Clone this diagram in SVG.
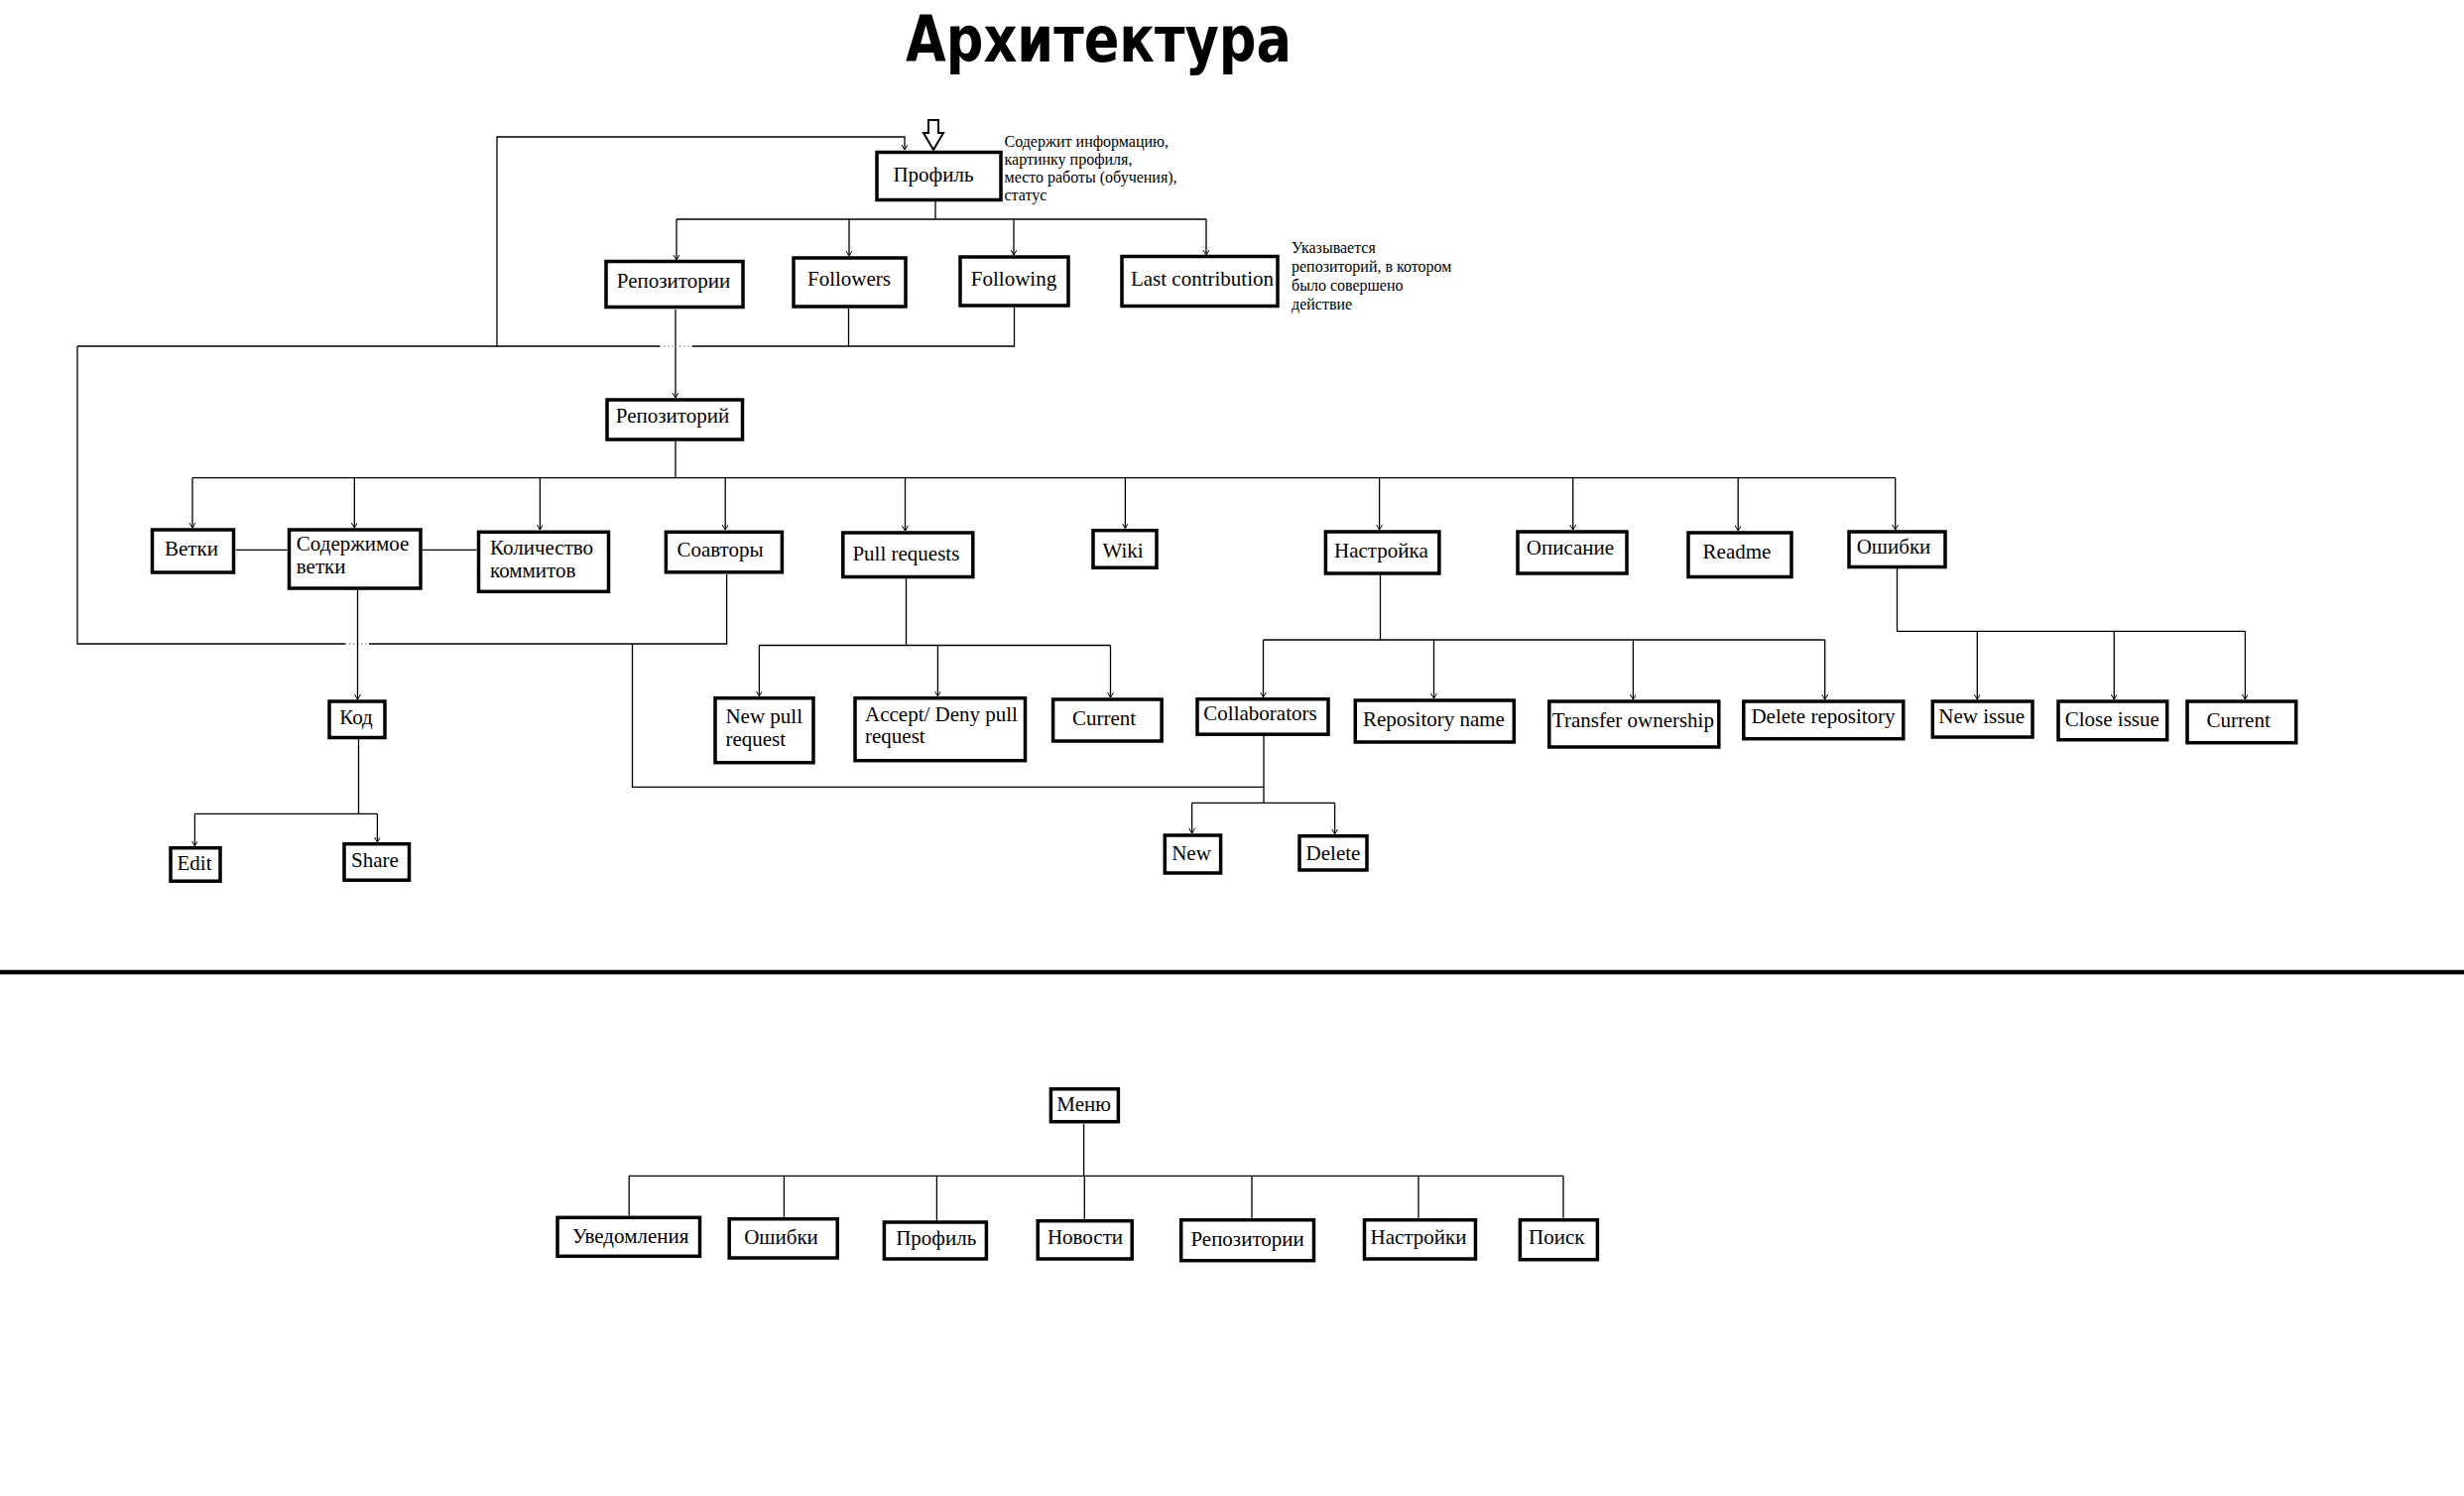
<svg xmlns="http://www.w3.org/2000/svg" width="2484" height="1508" viewBox="0 0 2484 1508">
<defs>
<style>
.box{fill:#fff;stroke:#000;stroke-width:3.5}
.t{font-family:"Liberation Serif","Times New Roman",serif;font-size:21px;fill:#000}
.m{text-anchor:middle}
.note{font-family:"Liberation Serif","Times New Roman",serif;font-size:16px;fill:#000}
.c{fill:none;stroke:#000;stroke-width:1.3}
.a{marker-end:url(#arr)}
.dot{fill:none;stroke:#999;stroke-width:1.3;stroke-dasharray:1.5 2.5}
</style>
<marker id="arr" markerWidth="8" markerHeight="8" refX="5" refY="3" orient="auto" markerUnits="userSpaceOnUse">
<path d="M0,0 L5,3 L0,6" fill="none" stroke="#000" stroke-width="1"/>
</marker>
</defs>
<rect width="2484" height="1508" fill="#fff"/>
<text x="1107.5" y="61.7" text-anchor="middle" font-family="'DejaVu Sans',Verdana,sans-serif" font-weight="bold" font-size="64" textLength="389" lengthAdjust="spacingAndGlyphs">Архитектура</text>

<g id="connectors">
<path class="c a" d="M501,349 V138 H912 V151"/>
<path class="c" d="M943,203 V221 M682,221 H1216"/>
<path class="c a" d="M682,221 V262"/>
<path class="c a" d="M856,221 V258"/>
<path class="c a" d="M1022,221 V257"/>
<path class="c a" d="M1216,221 V257"/>
<path class="c a" d="M681,312 V401"/>
<path class="c" d="M78,349 H665 M698,349 H1022.5 V310 M855.5,311 V349"/>
<path class="dot" d="M665,349 H698"/>
<path class="c" d="M78,349 V649 H348 M372,649 H732.6 V579"/>
<path class="dot" d="M348,649 H372"/>
<path class="c" d="M637.5,649 V793.3 H1274"/>
<path class="c" d="M681,445 V481.7 M194,481.7 H1910.7"/>
<path class="c a" d="M194,481.7 V532"/>
<path class="c a" d="M357.3,481.7 V532"/>
<path class="c a" d="M544.4,481.7 V534"/>
<path class="c a" d="M731.2,481.7 V534"/>
<path class="c a" d="M912.5,481.7 V535"/>
<path class="c a" d="M1134.4,481.7 V532.5"/>
<path class="c a" d="M1390.6,481.7 V534"/>
<path class="c a" d="M1585.7,481.7 V534"/>
<path class="c a" d="M1752.2,481.7 V535"/>
<path class="c a" d="M1910.7,481.7 V534"/>
<path class="c" d="M237.7,554.3 H289.5 M426,554.3 H480.5"/>
<path class="c a" d="M360.5,595 V705"/>
<path class="c" d="M361.5,745 V820.3 M196.4,820.3 H380.4"/>
<path class="c a" d="M196.4,820.3 V852.7"/>
<path class="c a" d="M380.4,820.3 V848.7"/>
<path class="c" d="M913.5,583 V650.5 M765.4,650.5 H1119.5"/>
<path class="c a" d="M765.4,650.5 V701.7"/>
<path class="c a" d="M945.4,650.5 V701.7"/>
<path class="c a" d="M1119.5,650.5 V703"/>
<path class="c" d="M1391.5,580 V645 M1273.5,645 H1839.7"/>
<path class="c a" d="M1273.5,645 V702.7"/>
<path class="c a" d="M1445.5,645 V704"/>
<path class="c a" d="M1646.4,645 V705"/>
<path class="c a" d="M1839.7,645 V705"/>
<path class="c" d="M1274,742 V809.3 M1201.6,809.3 H1345.6"/>
<path class="c a" d="M1201.6,809.3 V840"/>
<path class="c a" d="M1345.6,809.3 V840.7"/>
<path class="c" d="M1912.5,573 V636.3 H2263.4"/>
<path class="c a" d="M1993.3,636.3 V705"/>
<path class="c a" d="M2131.3,636.3 V705"/>
<path class="c a" d="M2263.4,636.3 V705"/>
<path class="c" d="M1092.6,1133 V1185.3 M634.2,1185.3 H1576 M634.2,1185.3 V1225.3 M790.4,1185.3 V1226.7 M944.4,1185.3 V1230 M1093.3,1185.3 V1228.7 M1262,1185.3 V1227.7 M1430,1185.3 V1227.7 M1576,1185.3 V1227.7"/>
</g>

<polygon points="936,121 946,121 946,134 951,134 941,151 931,134 936,134" fill="#fff" stroke="#000" stroke-width="2"/>
<line x1="0" y1="980" x2="2484" y2="980" stroke="#000" stroke-width="4.5"/>

<g id="profile"><rect class="box" x="884" y="153.5" width="125" height="48"/><text class="t m" x="941" y="183">Профиль</text></g>
<g id="profile-note"><text class="note" x="1012.5" y="148">Содержит информацию,</text><text class="note" x="1012.5" y="166">картинку профиля,</text><text class="note" x="1012.5" y="184">место работы (обучения),</text><text class="note" x="1012.5" y="202">статус</text></g>
<g id="repos"><rect class="box" x="611" y="263.5" width="138" height="46"/><text class="t m" x="679" y="290">Репозитории</text></g>
<g id="followers"><rect class="box" x="800" y="260" width="113" height="49"/><text class="t m" x="856" y="288">Followers</text></g>
<g id="following"><rect class="box" x="968" y="259" width="109" height="49"/><text class="t m" x="1022" y="288">Following</text></g>
<g id="last-contribution"><rect class="box" x="1131" y="258.5" width="157" height="50"/><text class="t m" x="1212" y="288">Last contribution</text></g>
<g id="last-note"><text class="note" x="1302" y="255">Указывается</text><text class="note" x="1302" y="274">репозиторий, в котором</text><text class="note" x="1302" y="293">было совершено</text><text class="note" x="1302" y="312">действие</text></g>
<g id="repo"><rect class="box" x="612" y="403" width="136.5" height="40"/><text class="t m" x="678" y="426">Репозиторий</text></g>
<g id="branches"><rect class="box" x="153.5" y="534" width="82" height="43"/><text class="t m" x="193" y="560">Ветки</text></g>
<g id="branch-content"><rect class="box" x="291.5" y="534" width="132.5" height="59"/><text class="t" x="298.8" y="555">Содержимое</text><text class="t" x="298.8" y="577.7">ветки</text></g>
<g id="commits"><rect class="box" x="482.5" y="536.3" width="131" height="60"/><text class="t" x="494" y="559.3">Количество</text><text class="t" x="494" y="581.7">коммитов</text></g>
<g id="coauthors"><rect class="box" x="671.4" y="536.3" width="117" height="40.5"/><text class="t m" x="726" y="560.7">Соавторы</text></g>
<g id="pull-requests"><rect class="box" x="849.8" y="537" width="131" height="44.5"/><text class="t m" x="913.4" y="565">Pull requests</text></g>
<g id="wiki"><rect class="box" x="1102" y="534.7" width="64" height="37.5"/><text class="t m" x="1132" y="561.7">Wiki</text></g>
<g id="settings"><rect class="box" x="1336.4" y="536" width="114.5" height="42"/><text class="t m" x="1392.4" y="561.7">Настройка</text></g>
<g id="description"><rect class="box" x="1530" y="536" width="110" height="42"/><text class="t m" x="1583" y="559.3">Описание</text></g>
<g id="readme"><rect class="box" x="1702" y="537" width="104" height="44.5"/><text class="t m" x="1751" y="563.3">Readme</text></g>
<g id="issues"><rect class="box" x="1864" y="536" width="97" height="35.5"/><text class="t m" x="1909" y="558.3">Ошибки</text></g>
<g id="code"><rect class="box" x="332" y="707" width="56" height="36.5"/><text class="t m" x="359" y="730">Код</text></g>
<g id="edit"><rect class="box" x="172" y="854.7" width="50" height="33.5"/><text class="t m" x="196" y="877">Edit</text></g>
<g id="share"><rect class="box" x="347" y="850.7" width="65.5" height="36.5"/><text class="t m" x="378" y="874">Share</text></g>
<g id="new-pr"><rect class="box" x="721" y="703.7" width="99" height="65"/><text class="t" x="731.4" y="729">New pull</text><text class="t" x="731.4" y="752.3">request</text></g>
<g id="accept-pr"><rect class="box" x="862" y="703.7" width="171.5" height="63"/><text class="t" x="872" y="726.7">Accept/ Deny pull</text><text class="t" x="872" y="749.3">request</text></g>
<g id="current-pr"><rect class="box" x="1061.6" y="705" width="109.5" height="42"/><text class="t m" x="1113" y="730.7">Current</text></g>
<g id="collaborators"><rect class="box" x="1207" y="704.7" width="132" height="35.5"/><text class="t m" x="1270.5" y="726">Collaborators</text></g>
<g id="repo-name"><rect class="box" x="1366.3" y="706" width="160" height="42"/><text class="t m" x="1445.5" y="731.7">Repository name</text></g>
<g id="transfer"><rect class="box" x="1561.8" y="707" width="171" height="46"/><text class="t m" x="1646.4" y="733.3">Transfer ownership</text></g>
<g id="delete-repo"><rect class="box" x="1757.8" y="707" width="161" height="37.7"/><text class="t m" x="1838" y="729">Delete repository</text></g>
<g id="new-issue"><rect class="box" x="1948.3" y="707" width="100.7" height="36"/><text class="t m" x="1997.7" y="729.3">New issue</text></g>
<g id="close-issue"><rect class="box" x="2075" y="707" width="109.7" height="38.7"/><text class="t m" x="2129.3" y="731.7">Close issue</text></g>
<g id="current-issue"><rect class="box" x="2205" y="707" width="109.7" height="41.7"/><text class="t m" x="2256.7" y="732.7">Current</text></g>
<g id="collab-new"><rect class="box" x="1174.3" y="842" width="56.3" height="38"/><text class="t m" x="1201" y="866.7">New</text></g>
<g id="collab-delete"><rect class="box" x="1310" y="842.7" width="68" height="34.3"/><text class="t m" x="1344" y="867.3">Delete</text></g>

<g id="menu"><rect class="box" x="1059.4" y="1097.7" width="68" height="33"/><text class="t m" x="1092.6" y="1120">Меню</text></g>
<g id="m-notifications"><rect class="box" x="562" y="1227.3" width="143.5" height="39"/><text class="t m" x="635.7" y="1252.7">Уведомления</text></g>
<g id="m-issues"><rect class="box" x="735.2" y="1228.7" width="109" height="39.3"/><text class="t m" x="787.5" y="1254.3">Ошибки</text></g>
<g id="m-profile"><rect class="box" x="891.4" y="1232" width="103" height="37"/><text class="t m" x="943.7" y="1255.3">Профиль</text></g>
<g id="m-news"><rect class="box" x="1046.2" y="1230.7" width="95" height="38.3"/><text class="t m" x="1094" y="1254">Новости</text></g>
<g id="m-repos"><rect class="box" x="1190.7" y="1229.7" width="133.8" height="41"/><text class="t m" x="1257.6" y="1255.7">Репозитории</text></g>
<g id="m-settings"><rect class="box" x="1375.5" y="1229.7" width="112" height="39.3"/><text class="t m" x="1430" y="1253.7">Настройки</text></g>
<g id="m-search"><rect class="box" x="1532.4" y="1229.7" width="78" height="40"/><text class="t m" x="1569.3" y="1254">Поиск</text></g>
</svg>
